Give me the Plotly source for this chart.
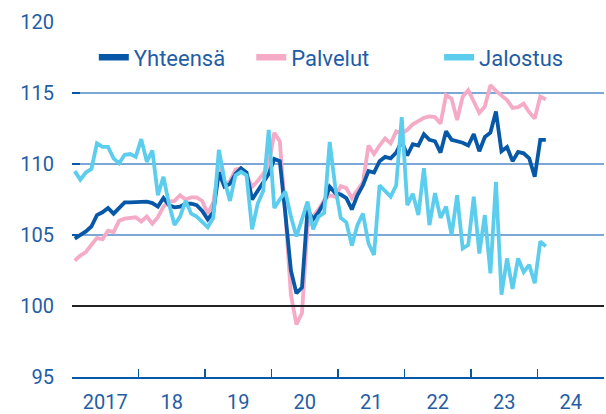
import plotly.graph_objects as go

start_year = 2017
yhteensa = [104.75, 105.0, 105.25, 105.6, 106.4, 106.6, 106.9, 106.5, 106.95, 107.3, 107.3, 107.3,
            107.3, 107.35, 107.25, 107.0, 107.6, 107.1, 106.95, 107.0, 107.2, 107.2, 107.1, 106.7,
            106.1, 106.6, 109.4, 108.4, 108.6, 109.3, 109.7, 109.4, 107.5, 108.1, 108.7, 109.3,
            110.35, 110.2, 106.5, 102.5, 100.9, 101.3, 106.8, 106.1, 106.6, 107.3, 108.4, 107.95,
            107.85, 107.6, 106.8, 107.8, 108.5, 109.5, 109.4, 110.2, 110.5, 110.4, 110.8, 111.6,
            110.6, 111.4, 111.3, 112.1, 111.7, 111.6, 110.8, 112.3, 111.7, 111.6, 111.5, 111.3,
            112.1, 110.9, 111.9, 112.2, 113.7, 110.9, 111.2, 110.2, 110.85, 110.75, 110.4, 109.1,
            111.7, 111.7]
palvelut = [103.2, 103.55, 103.8, 104.3, 104.8, 104.7, 105.3, 105.2, 106.0, 106.15, 106.2, 106.25,
            105.95, 106.3, 105.8, 106.25, 107.0, 107.35, 107.4, 107.8, 107.5, 107.65, 107.65, 107.4,
            106.5, 107.3, 109.8, 108.5, 108.8, 109.6, 109.7, 109.2, 108.4, 108.8, 109.3, 109.9,
            112.2, 111.6, 106.5, 100.8, 98.7, 99.5, 105.6, 106.3, 106.8, 107.45, 107.8, 107.7,
            108.45, 108.3, 107.6, 108.2, 108.7, 111.3, 110.7, 111.3, 111.8, 111.45, 112.3, 112.15,
            112.4, 112.8, 113.0, 113.25, 113.35, 113.3, 112.85, 114.85, 114.6, 113.1, 114.75, 115.2,
            114.4, 113.6, 114.05, 115.55, 115.15, 114.8, 114.5, 113.95, 114.0, 114.25, 113.65, 113.2,
            114.75, 114.55]
jalostus = [109.5, 108.9, 109.4, 109.65, 111.45, 111.2, 111.2, 110.4, 110.05, 110.65, 110.7, 110.5,
            111.75, 110.15, 110.95, 107.8, 109.1, 107.2, 105.7, 106.3, 107.4, 106.5, 106.3, 105.95,
            105.55, 106.2, 111.0, 108.9, 107.4, 109.2, 109.45, 109.2, 105.4, 107.2, 108.1, 112.4,
            106.9, 107.5, 108.05, 106.3, 104.9, 106.1, 107.35, 105.4, 106.3, 106.55, 111.55, 108.4,
            106.2, 105.9, 104.25, 105.7, 106.5, 104.4, 103.6, 108.5, 108.1, 107.7, 108.5, 113.3,
            107.1, 107.9, 106.4, 109.7, 105.7, 107.95, 106.2, 107.0, 105.0, 107.8, 104.05, 104.3,
            107.7, 103.7, 106.4, 102.3, 108.75, 100.8, 103.35, 101.2, 103.35, 102.4, 102.9, 101.6,
            104.55, 104.2]
year_labels = ["2017", "18", "19", "20", "21", "22", "23", "24"]
y_ticks = [95, 100, 105, 110, 115, 120]

x = [start_year + (i + 0.5) / 12 for i in range(len(yhteensa))]

TEXT = "#1f5da6"
DARK = "#0758a6"
PINK = "#f5aac5"
CYAN = "#5dcdee"
GRID = "#7da8d6"
FONT = "Roboto"

fig = go.Figure()
traces = [("Palvelut", palvelut, PINK, "legend2"),
          ("Yhteensä", yhteensa, DARK, "legend"),
          ("Jalostus", jalostus, CYAN, "legend3")]
for name, vals, color, leg in traces:
    fig.add_trace(go.Scatter(x=x, y=vals, mode="lines", name=name, showlegend=False,
                             line=dict(color=color, width=3.8)))
for name, vals, color, leg in traces:
    # legend key (thicker sample, no data points)
    fig.add_trace(go.Scatter(x=[None], y=[None], mode="lines", name=name, showlegend=True,
                             line=dict(color=color, width=6.5), legend=leg))

fig.add_hline(y=100, line=dict(color="#222222", width=2), layer="above")

leg_common = dict(orientation="h", yanchor="middle", xanchor="left",
                  bgcolor="rgba(0,0,0,0)", font=dict(family=FONT, size=22, color=TEXT),
                  itemclick=False)
fig.update_layout(
    width=606, height=414,
    margin=dict(l=72, r=2, t=22, b=37, autoexpand=False),
    paper_bgcolor="white", plot_bgcolor="white",
    font=dict(family=FONT, size=20, color=TEXT),
    showlegend=True,
    legend=dict(x=0.041, y=0.9, **leg_common),
    legend2=dict(x=0.337, y=0.9, **leg_common),
    legend3=dict(x=0.69, y=0.9, **leg_common),
    xaxis=dict(range=[2017, 2025], tickmode="array", automargin=False,
               tickvals=[start_year + i + 0.5 for i in range(len(year_labels))],
               ticktext=year_labels, ticks="", showgrid=False, zeroline=False,
               showline=True, linecolor=DARK, linewidth=2,
               ticklabelstandoff=6,
               minor=dict(tickmode="array", tickvals=[start_year + i for i in range(1, 8)],
                          ticks="inside", ticklen=8, tickcolor=DARK, tickwidth=1.5, showgrid=False),
               tickfont=dict(family=FONT, size=20, color=TEXT)),
    yaxis=dict(range=[95, 120], tickmode="array", tickvals=y_ticks, automargin=False,
               ticks="", showgrid=True, gridcolor=GRID, gridwidth=1.5,
               zeroline=False, showline=False, mirror="ticks",
               ticklabelstandoff=17,
               minor=dict(tickmode="array", tickvals=[105, 110, 115], ticks="inside",
                          ticklen=8, tickcolor=DARK, tickwidth=2.5, showgrid=False),
               tickfont=dict(family=FONT, size=20, color=TEXT)),
)

fig.write_html("out.html", config={"displayModeBar": False, "staticPlot": True},
               post_script="document.body.style.margin='0';document.body.style.padding='0';")
